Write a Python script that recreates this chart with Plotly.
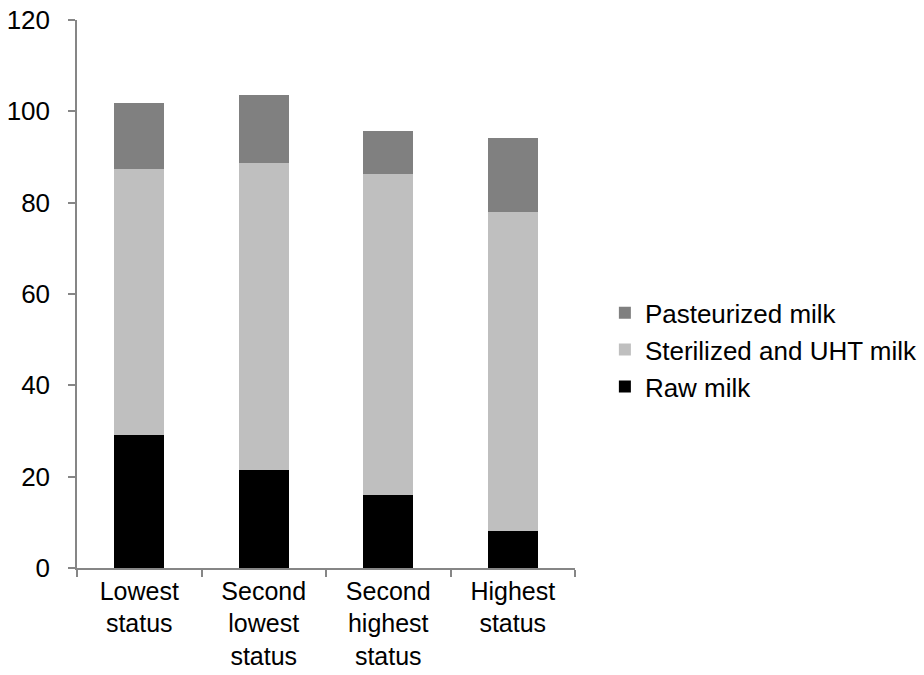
import plotly.graph_objects as go

categories = ["Lowest<br>status", "Second<br>lowest<br>status", "Second<br>highest<br>status", "Highest<br>status"]
raw_milk = [29.1, 21.4, 16.0, 8.0]
sterilized_uht = [58.2, 67.2, 70.2, 69.9]
pasteurized = [14.5, 15.0, 9.6, 16.2]
y_ticks = [0, 20, 40, 60, 80, 100, 120]

FONT = "Liberation Sans, Arial, sans-serif"
AX = "#868686"

fig = go.Figure()
fig.add_trace(go.Bar(x=categories, y=raw_milk, name="Raw milk",
                     marker=dict(color="#000000", line=dict(width=0)), legendgroup="a"))
fig.add_trace(go.Bar(x=categories, y=sterilized_uht, name="Sterilized and UHT milk",
                     marker=dict(color="#bfbfbf", line=dict(width=0)), legendgroup="b"))
fig.add_trace(go.Bar(x=categories, y=pasteurized, name="Pasteurized milk",
                     marker=dict(color="#808080", line=dict(width=0)), legendgroup="c"))

fig.update_layout(
    width=924, height=675,
    barmode="stack", bargap=0.6,
    plot_bgcolor="white", paper_bgcolor="white",
    margin=dict(l=77, r=349, t=20, b=107, autoexpand=False),
    font=dict(family=FONT, size=26, color="#000000"),
    legend=dict(x=1.06, xanchor="left", y=0.398, yanchor="middle",
                traceorder="reversed", font=dict(size=26), tracegroupgap=6,
                itemwidth=30),
    showlegend=True,
)
fig.update_yaxes(range=[0, 120], tickvals=y_ticks, showgrid=False, zeroline=False,
                 showline=True, linecolor=AX, linewidth=1.5, automargin=False,
                 ticks="outside", ticklen=7, tickcolor=AX, tickwidth=1.5,
                 ticklabelstandoff=13, ticklabeloverflow="allow")
fig.update_xaxes(showgrid=False, showline=True, linecolor=AX, linewidth=1.5,
                 automargin=False, ticklabeloverflow="allow", tickfont=dict(size=25),
                 ticks="outside", ticklen=7, tickcolor=AX, tickwidth=1.5,
                 tickson="boundaries", ticklabelstandoff=0)

fig.write_html("out.html", config={"displayModeBar": False},
               post_script="document.body.style.margin='0';document.body.style.overflow='hidden';")
